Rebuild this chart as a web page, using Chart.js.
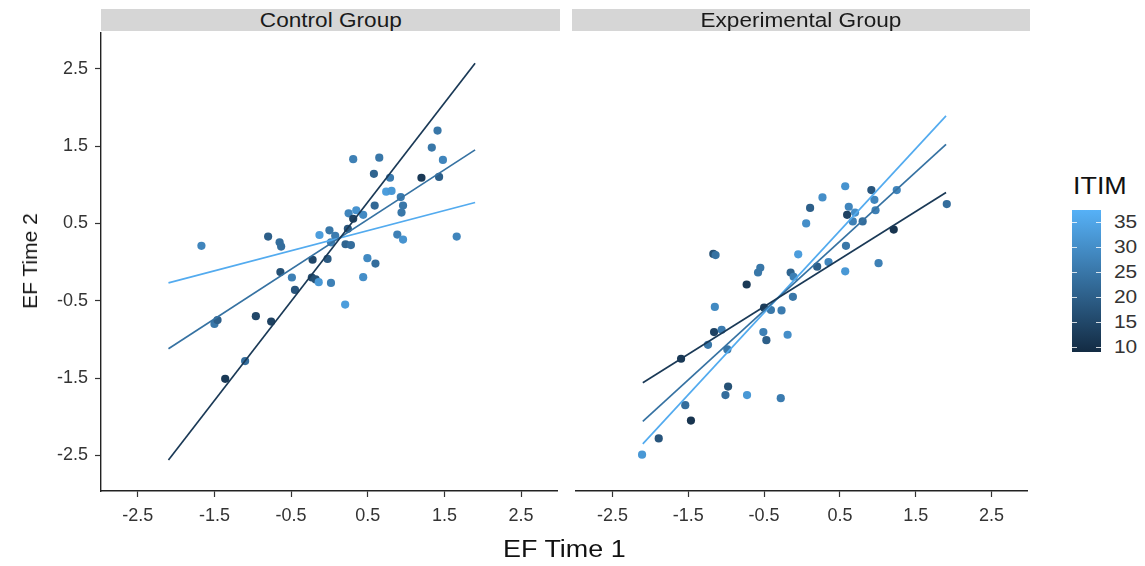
<!DOCTYPE html>
<html>
<head>
<meta charset="utf-8">
<script src="https://cdn.jsdelivr.net/npm/chart.js@4.4.1/dist/chart.umd.min.js"></script>
<style>
  body { margin: 0; background: #fff; font-family: "Liberation Sans", Arial, sans-serif; }
  #wrap { position: relative; width: 1145px; height: 566px; overflow: hidden; }
  canvas { position: absolute; }
  .strip { position: absolute; top: 9px; height: 22px; background: #d6d6d6; color: #1a1a1a;
           font-size: 20px; line-height: 23px; text-align: center; overflow: hidden; z-index: 2; }
  .strip span { display: inline-block; transform: scaleX(1.13); }
  .title { position: absolute; color: #111; font-size: 23px; white-space: nowrap; }
  .lab { position: absolute; color: #333; font-size: 19px; line-height: 20px; transform: scaleX(1.1); transform-origin: left center; }
  .tk { position: absolute; width: 5px; height: 1px; background: rgba(255,255,255,0.8); }
</style>
</head>
<body>
<div id="wrap">
  <div class="strip" style="left:101px;width:459px"><span>Control Group</span></div>
  <div class="strip" style="left:572px;width:458px"><span>Experimental Group</span></div>
  <canvas id="ctrl" width="562" height="537" style="left:0;top:29px"></canvas>
  <canvas id="exp" width="460" height="537" style="left:572px;top:29px"></canvas>
  <div class="title" style="left:503px;top:536px;transform:scaleX(1.17);transform-origin:left top">EF Time 1</div>
  <div class="title" style="left:30px;top:261px;font-size:21px;transform:translate(-50%,-50%) rotate(-90deg)">EF Time 2</div>
  <div class="title" style="left:1073px;top:172px;font-size:24px;transform:scaleX(1.12);transform-origin:left top">ITIM</div>
  <div id="bar" style="position:absolute;left:1072px;top:210px;width:29px;height:142px"></div>
  <div id="legend"></div>
</div>
<script>
// axis ticks
const tickVals = [-2.5, -1.5, -0.5, 0.5, 1.5, 2.5];
const tickLabels = ['-2.5', '-1.5', '-0.5', '0.5', '1.5', '2.5'];
const legendTicks = [10, 15, 20, 25, 30, 35];
const itimMin = 9.1, itimMax = 37.3;

// Control group points
const ctrlX = [1.41, 1.335, 1.48, 0.31, 0.65, 0.58, 0.79, 1.20, 1.43, 0.74, 0.81, 0.93, 0.96, 0.94, 0.59, 0.25, 0.35, 0.44,
  0.31, 0.24, 0.00, -0.13, 0.075, 0.02, 0.21, 0.28, 0.885, 0.96, 1.66, -0.80, -0.65, -0.63, -1.67, 0.495, -0.22, -0.025,
  0.60, -0.64, -0.49, -0.23, -0.18, -0.14, 0.02, 0.44, 0.205, -0.45, -1.50, -1.46, -0.96, -0.76, -1.10, -1.36];
const ctrlY = [1.70, 1.48, 1.32, 1.33, 1.35, 1.14, 1.09, 1.09, 1.10, 0.91, 0.92, 0.84, 0.73, 0.64, 0.73, 0.63, 0.67, 0.61,
  0.56, 0.43, 0.41, 0.35, 0.34, 0.255, 0.23, 0.22, 0.355, 0.29, 0.33, 0.33, 0.255, 0.20, 0.21, 0.05, 0.03, 0.04,
  -0.02, -0.13, -0.20, -0.20, -0.225, -0.26, -0.27, -0.195, -0.55, -0.36, -0.80, -0.75, -0.70, -0.77, -1.28, -1.51];
const ctrlItim = [25, 25, 28, 27, 25, 21, 26, 12, 20, 33, 32, 26, 25, 25, 22, 28, 31, 29,
  14, 18, 25, 33, 26, 27, 21, 23, 27, 31, 28, 20, 23, 23, 28, 29, 15, 19,
  23, 17, 27, 16, 17, 32, 27, 30, 33, 18, 25, 20, 15, 14, 23, 12];

// Experimental group points
const expX = [0.57, 0.915, 1.25, 0.27, 0.955, 0.107, 0.617, 0.70, 0.595, 0.97, 0.67, 0.80, 0.055, 1.21, 1.91, 0.58, 1.01,
  0.57, 0.35, 0.20, -0.05, -0.15, -0.11, -1.17, -1.14, -0.55, -0.58, -0.73, -0.12, -1.15, -0.50, -0.41, -0.27,
  -1.16, -1.06, -1.24, -1.595, -0.985, -0.51, -0.47, -0.19, -0.975, -1.01, -0.725, -0.28, -1.54, -1.465, -1.89, -2.11];
const expY = [0.98, 0.93, 0.93, 0.835, 0.805, 0.70, 0.715, 0.64, 0.61, 0.67, 0.525, 0.525, 0.50, 0.42, 0.75, 0.21, -0.015,
  -0.12, 0.0, -0.06, 0.10, -0.135, -0.19, 0.105, 0.09, -0.075, -0.135, -0.29, -0.45, -0.58, -0.59, -0.62, -0.625,
  -0.905, -0.875, -1.07, -1.25, -1.13, -0.905, -1.01, -0.94, -1.61, -1.72, -1.72, -1.76, -1.85, -2.05, -2.28, -2.49];
const expItim = [31, 18, 28, 30, 28, 20, 28, 30, 14, 27, 27, 23, 30, 11, 23, 25, 27,
  32, 28, 20, 33, 21, 27, 17, 24, 25, 25, 12, 25, 29, 13, 25, 26,
  14, 26, 25, 12, 25, 27, 20, 30, 17, 23, 32, 26, 23, 11, 18, 32];

// fitted lines at three ITIM levels (endpoints)
const lineX = [-2.10, 1.90];
const lineItim = [12, 24, 36];
const ctrlLineY = [[-2.56, 2.57], [-1.12, 1.45], [-0.27, 0.77]];
const expLineY = [[-1.56, 0.90], [-2.06, 1.52], [-2.35, 1.89]];

const lo = [19, 43, 67], hi = [86, 177, 247];
function itimColor(v) {
  let t = (v - itimMin) / (itimMax - itimMin);
  t = Math.max(0, Math.min(1, t));
  const c = lo.map((a, i) => Math.round(a + (hi[i] - a) * t));
  return 'rgb(' + c.join(',') + ')';
}

function makePanel(id, xs, ys, itims, lineYs, showY) {
  const pts = xs.map((x, i) => ({ x: x, y: ys[i] }));
  const datasets = [{
    type: 'scatter',
    data: pts,
    backgroundColor: itims.map(itimColor),
    borderWidth: 0,
    pointRadius: 4.1,
    order: 2
  }];
  lineYs.forEach((ly, k) => {
    datasets.push({
      type: 'line',
      data: lineX.map((x, i) => ({ x: x, y: ly[i] })),
      borderColor: itimColor(lineItim[k]),
      borderWidth: 1.7,
      pointRadius: 0,
      fill: false,
      order: 1
    });
  });
  const tickFont = { family: '"Liberation Sans", Arial, sans-serif', size: 18 };
  return new Chart(document.getElementById(id), {
    data: { datasets: datasets },
    options: {
      responsive: false,
      animation: false,
      layout: { padding: { top: 0, right: 2, left: 0, bottom: 0 } },
      plugins: { legend: { display: false }, tooltip: { enabled: false } },
      scales: {
        x: {
          type: 'linear', min: -2.98, max: 2.98,
          afterBuildTicks: s => { s.ticks = tickVals.map(v => ({ value: v })); },
          afterFit: s => { s.height = 75; s.paddingLeft = 0; s.paddingRight = 0; },
          ticks: { callback: (v, i) => tickLabels[i], color: '#333', font: tickFont, padding: 8, maxRotation: 0 },
          grid: { drawOnChartArea: false, tickLength: 6, tickColor: '#333', tickWidth: 1.2 },
          border: { color: '#222', width: 1.4 }
        },
        y: {
          type: 'linear', min: -2.96, max: 2.96, display: showY,
          afterBuildTicks: s => { s.ticks = tickVals.map(v => ({ value: v })); },
          afterFit: s => { s.width = showY ? 101 : 0; s.paddingTop = 0; s.paddingBottom = 0; },
          ticks: { callback: (v, i) => tickLabels[i], color: '#333', font: tickFont, padding: 7 },
          grid: { drawOnChartArea: false, tickLength: 6, tickColor: '#333', tickWidth: 1.2 },
          border: { color: '#222', width: 1.4 }
        }
      }
    }
  });
}

makePanel('ctrl', ctrlX, ctrlY, ctrlItim, ctrlLineY, true);
makePanel('exp', expX, expY, expItim, expLineY, false);

// colour bar legend
const bar = document.getElementById('bar');
bar.style.background = 'linear-gradient(to bottom, ' + itimColor(itimMax) + ', ' + itimColor(itimMin) + ')';
const barTop = 210, barH = 142;
const leg = document.getElementById('legend');
legendTicks.forEach((v, i) => {
  const y = barTop + (itimMax - v) / (itimMax - itimMin) * barH;
  const l = document.createElement('div');
  l.className = 'lab';
  l.style.left = '1114px';
  l.style.top = (y - 10) + 'px';
  l.textContent = String(v);
  leg.appendChild(l);
  [1072, 1096].forEach(x => {
    const t = document.createElement('div');
    t.className = 'tk';
    t.style.left = x + 'px';
    t.style.top = Math.round(y) + 'px';
    leg.appendChild(t);
  });
});
</script>
</body>
</html>
